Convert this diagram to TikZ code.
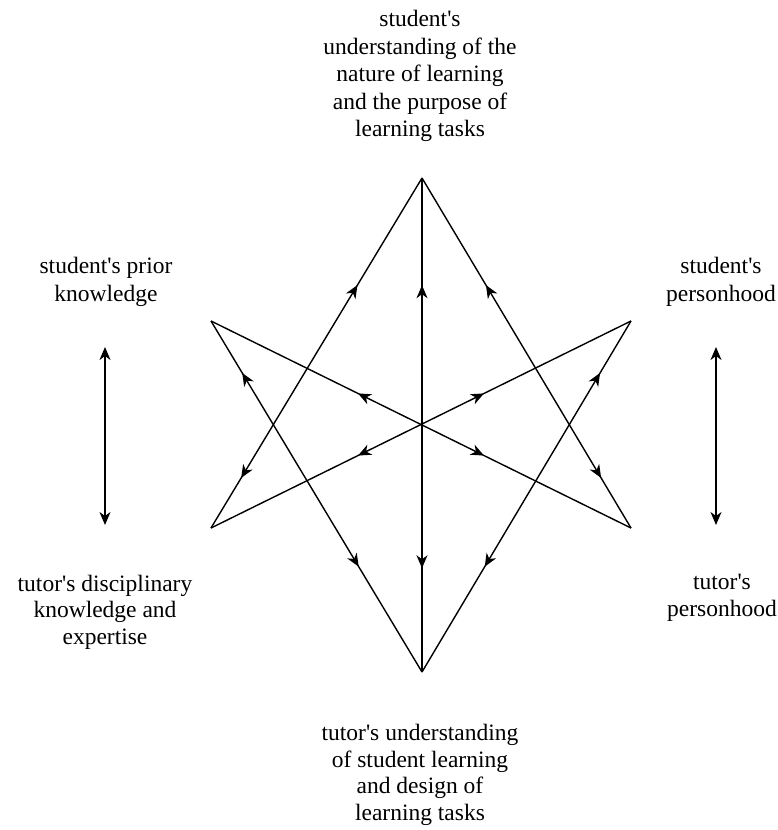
\documentclass[tikz,border=0pt]{standalone}
\usepackage{fontspec}
\setmainfont{Liberation Serif}
\usepackage{tikz}
\usetikzlibrary{arrows.meta,decorations.markings}
\newcommand{\ap}{\textquotesingle}
\tikzset{
  >={Stealth[length=13pt,width=11pt,inset=4pt]},
  edge/.style={draw=black, line width=1.4pt, line join=miter},
  twoway/.style 2 args={edge, postaction={decorate},
    decoration={markings,
      mark=at position #1 with {\arrowreversed{>}},
      mark=at position #2 with {\arrow{>}}}},
  side/.style={draw=black, line width=1.4pt, <->},
  lab/.style={align=center, inner sep=0pt, font=\fontsize{23.5}{27.5}\selectfont},
}
\begin{document}
\begin{tikzpicture}[x=1pt,y=-1pt]
  \useasboundingbox (0,0) rectangle (778,830);
  % star points
  \coordinate (top) at (422,178);
  \coordinate (bot) at (422,672);
  \coordinate (ul) at (211,321);
  \coordinate (ll) at (211,528);
  \coordinate (ur) at (631,321);
  \coordinate (lr) at (631,528);
  % lines with two outward arrows
  \draw[twoway={0.306}{0.857}] (top) -- (ll);
  \draw[twoway={0.306}{0.857}] (top) -- (lr);
  \draw[twoway={0.148}{0.70}] (ul) -- (bot);
  \draw[twoway={0.148}{0.70}] (ur) -- (bot);
  \draw[twoway={0.35}{0.65}] (ul) -- (lr);
  \draw[twoway={0.35}{0.65}] (ur) -- (ll);
  \draw[twoway={0.217}{0.79}] (top) -- (bot);
  % side arrows
  \coordinate (lefta) at (105,347);
  \coordinate (leftb) at (105,525);
  \coordinate (righta) at (716,347);
  \coordinate (rightb) at (716,525);
  \draw[side] (lefta) -- (leftb);
  \draw[side] (righta) -- (rightb);
  % labels
  \node[lab] (ltop) at (420,76) {student\ap s\\understanding of the\\nature of learning\\and the purpose of\\learning tasks};
  \node[lab, font=\fontsize{23.5}{26.5}\selectfont] (lbot) at (420,775) {tutor\ap s understanding\\of student learning\\and design of\\learning tasks};
  \node[lab] (lul) at (106,282) {student\ap s prior\\knowledge};
  \node[lab] (lur) at (721,282) {student\ap s\\personhood};
  \node[lab, font=\fontsize{23.5}{26.5}\selectfont] (lll) at (105,612) {tutor\ap s disciplinary\\knowledge and\\expertise};
  \node[lab] (llr) at (722,598) {tutor\ap s\\personhood};
\end{tikzpicture}
\end{document}
